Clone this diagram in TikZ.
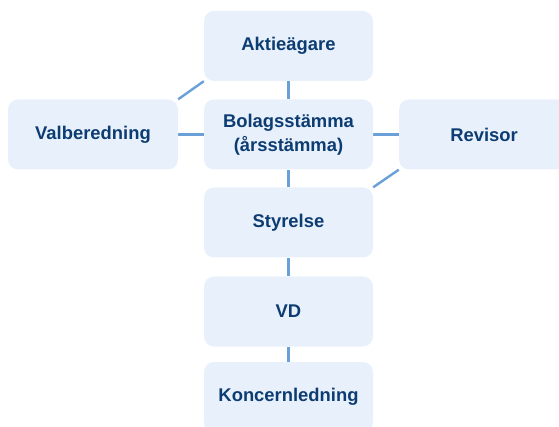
\documentclass[tikz,border=0pt]{standalone}
\usepackage{fontspec}
\setmainfont{Liberation Sans}
\usetikzlibrary{backgrounds}

\definecolor{boxfill}{RGB}{232,241,251}
\definecolor{boxtext}{RGB}{12,60,114}
\definecolor{linkline}{RGB}{106,160,216}

\tikzset{
  orgbox/.style={fill=boxfill, rounded corners=10pt, minimum width=169pt, minimum height=70pt,
    align=center, text=boxtext, font=\fontsize{18.4}{24.5}\selectfont\bfseries, inner sep=0pt},
  link/.style={draw=linkline, line width=2.4pt}
}

\begin{document}
\begin{tikzpicture}[x=1pt,y=-1pt]
        \useasboundingbox (0,0) rectangle (559,427);
        \node[orgbox] (aktie) at (288.5,46) {Aktieägare};
        \node[orgbox] (bolag) at (288.5,134.5) {Bolagsstämma\\(årsstämma)};
        \node[orgbox, minimum width=170pt] (valb) at (93,134.5) {Valberedning};
        \node[orgbox, minimum width=170pt] (revisor) at (484,134.5) {Revisor};
        \node[orgbox] (styrelse) at (288.5,222.5) {Styrelse};
        \node[orgbox] (vd) at (288.5,311.5) {VD};
        \node[orgbox] (koncern) at (288.5,397) {Koncernledning};
        
        % connectors go behind the boxes
        \begin{scope}[on background layer]
        \draw[link] (aktie) -- (bolag);
        \draw[link] (bolag) -- (styrelse);
        \draw[link] (styrelse) -- (vd);
        \draw[link] (vd) -- (koncern);
        \draw[link] (valb) -- (bolag);
        \draw[link] (bolag) -- (revisor);
        \draw[link] (valb.north east) -- (aktie.south west);
        \draw[link] (revisor.south west) -- (styrelse.north east);
        \end{scope}
        \end{tikzpicture}
\end{document}
